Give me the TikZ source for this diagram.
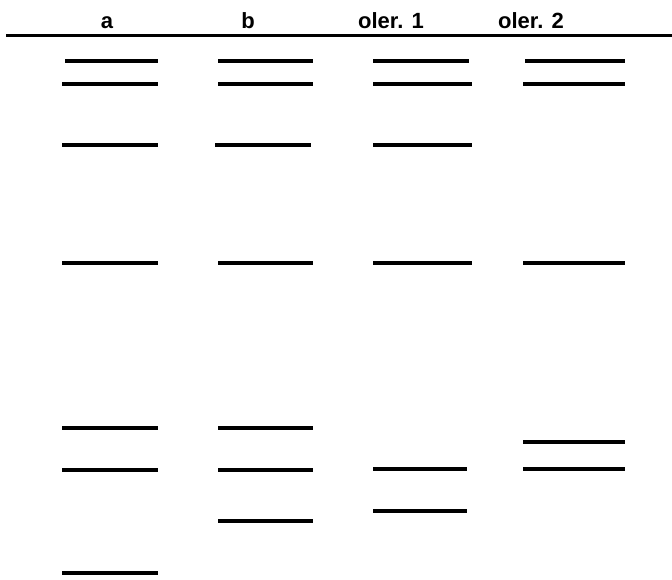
\documentclass[tikz,border=0pt]{standalone}
\usepackage{fontspec}
\setmainfont{Liberation Sans}
\begin{document}
\begin{tikzpicture}[
    x=1pt, y=-1pt,
    % Band and label styles
    band/.style={line width=3.2pt, black},
    rule/.style={line width=3pt, black},
    lanelabel/.style={anchor=base, font=\fontsize{22}{26}\selectfont\bfseries, inner sep=0pt}
]
\useasboundingbox (0,0) rectangle (672,579);

% 1. Lane labels
\node[lanelabel] (laneA) at (107, 28) {a};
\node[lanelabel] (laneB) at (248, 28) {b};
\node[lanelabel] (laneC) at (391, 28) {oler. 1};
\node[lanelabel] (laneD) at (531, 28) {oler. 2};

% 2. Header rule
\draw[rule] (6, 35) -- (672, 35);

% 3. Lane a
\foreach \y in {84, 145, 263, 428, 470, 573}
    \draw[band] (62, \y) -- (158, \y);
\draw[band] (65, 61) -- (158, 61);

% 4. Lane b
\foreach \y in {61, 84, 263, 428, 521}
    \draw[band] (218, \y) -- (313, \y);
\draw[band] (215, 145) -- (311, 145);
\draw[band, line width=3.8pt] (218, 470) -- (313, 470);

% 5. Lane oler. 1
\foreach \y in {84, 145, 263}
    \draw[band] (373, \y) -- (472, \y);
\draw[band] (373, 61) -- (469, 61);
\foreach \y in {469, 511}
    \draw[band] (373, \y) -- (467, \y);

% 6. Lane oler. 2
\foreach \y in {84, 263, 442, 469}
    \draw[band] (523, \y) -- (625, \y);
\draw[band] (525, 61) -- (625, 61);

\end{tikzpicture}
\end{document}
